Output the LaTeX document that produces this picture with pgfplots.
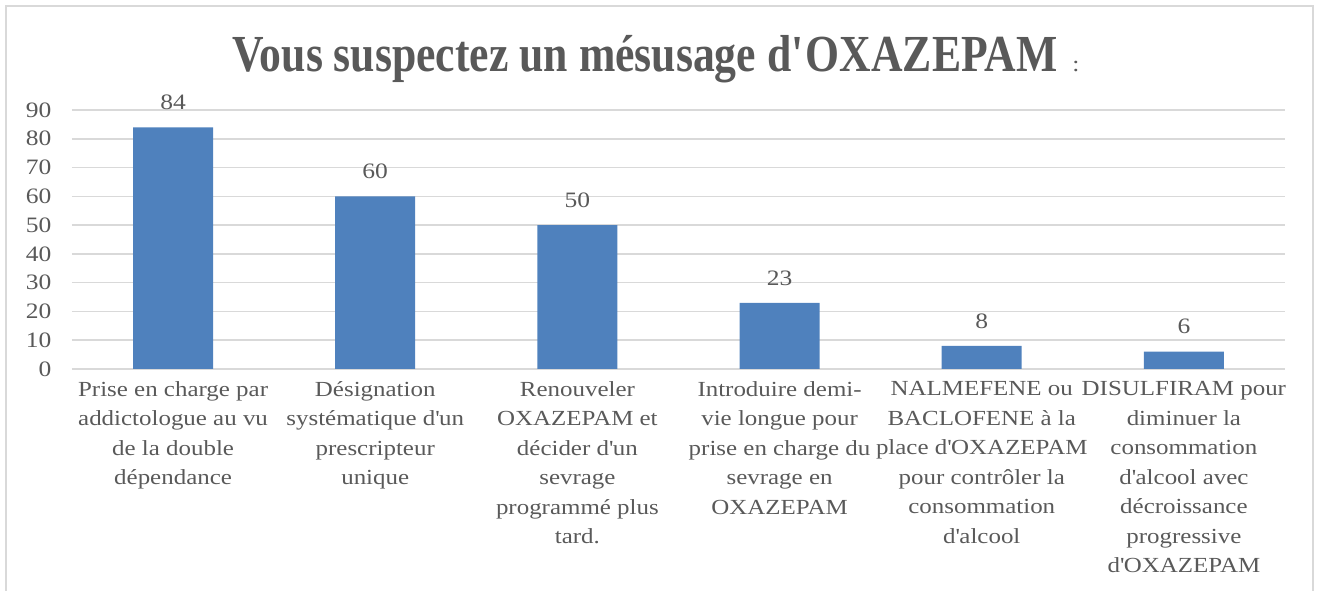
\documentclass[border=0pt]{standalone}
\usepackage{pgfplots}
\pgfplotsset{compat=1.18}
\usepackage{fontspec}
\setmainfont{Liberation Serif}
\newfontfamily\lbl{Liberation Serif}[FakeStretch=1.16]
\newfontfamily\ttl{Liberation Serif}[FakeStretch=0.84]
\definecolor{barblue}{HTML}{4F81BD}
\definecolor{txtgray}{HTML}{595959}
\definecolor{gridgray}{HTML}{D9D9D9}
\newcommand{\q}{\textquotesingle}
\begin{document}
\begin{tikzpicture}
\begin{axis}[
  at={(72pt,222pt)}, anchor=south west,
  scale only axis, width=1213pt, height=259pt,
  xmin=-0.5, xmax=5.5, ymin=0, ymax=90,
  ytick={0,10,...,90},
  xtick=data,
  xticklabels={
    {Prise en charge par\\addictologue au vu\\de la double\\dépendance},
    {Désignation\\systématique d\q un\\prescripteur\\unique},
    {Renouveler\\OXAZEPAM et\\décider d\q un\\sevrage\\programmé plus\\tard.},
    {Introduire demi-\\vie longue pour\\prise en charge du\\sevrage en\\OXAZEPAM},
    {NALMEFENE ou\\BACLOFENE à la\\place d\q OXAZEPAM\\pour contrôler la\\consommation\\d\q alcool},
    {DISULFIRAM pour\\diminuer la\\consommation\\d\q alcool avec\\décroissance\\progressive\\d\q OXAZEPAM}},
  xticklabel style={align=center, font=\lbl\fontsize{21.5}{29.5}\selectfont, text=txtgray, yshift=-9pt},
  yticklabel style={font=\lbl\fontsize{22}{25}\selectfont, text=txtgray, xshift=-17pt},
  /pgf/number format/assume math mode=true,
  axis line style={draw=none},
  major tick length=0pt,
  ymajorgrids, grid style={gridgray, line width=1.5pt},
  ybar, bar width=80pt,
  nodes near coords,
  nodes near coords style={font=\lbl\fontsize{22}{25}\selectfont, text=txtgray, yshift=14pt},
  clip=false,
]
\addplot[fill=barblue, draw=none] coordinates {(0,84) (1,60) (2,50) (3,23) (4,8) (5,6)};
\end{axis}
\node[text=txtgray, anchor=base] at (656pt,519pt) {\ttl\fontsize{52}{56}\selectfont\bfseries Vous suspectez un mésusage d\q OXAZEPAM\,{\lbl\mdseries\fontsize{22}{24}\selectfont\ :}};
\draw[gridgray, line width=1.2pt] (6pt,-10pt) -- (6pt,585pt) -- (1313pt,585pt) -- (1313pt,-10pt);
\pgfresetboundingbox
\useasboundingbox (0pt,0pt) rectangle (1318pt,591pt);
\end{tikzpicture}
\end{document}
